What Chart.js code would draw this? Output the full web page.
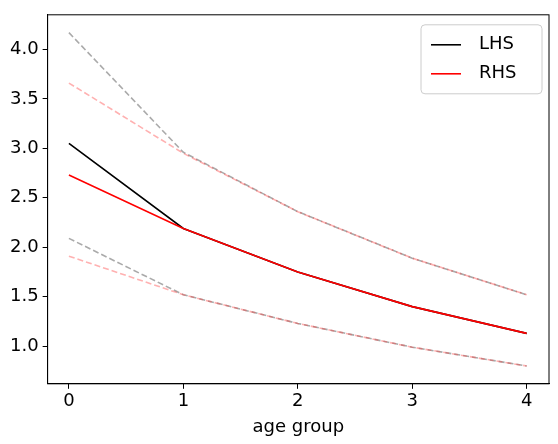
<!DOCTYPE html>
<html>
<head>
<meta charset="utf-8">
<script src="https://cdn.jsdelivr.net/npm/chart.js@4"></script>
<style>body{margin:0;background:#fff}#wrap{width:558px;height:444px}</style>
</head>
<body>
<div id="wrap"><canvas id="myChart"></canvas></div>
<script>
// données
const ages = [0, 1, 2, 3, 4];
const lhs = [3.05, 2.19, 1.75, 1.40, 1.13];
const rhs = [2.73, 2.19, 1.75, 1.40, 1.13];
const lhsUpper = [4.17, 2.96, 2.36, 1.89, 1.52];
const lhsLower = [2.09, 1.52, 1.23, 0.99, 0.80];
const rhsUpper = [3.66, 2.95, 2.36, 1.89, 1.52];
const rhsLower = [1.91, 1.52, 1.23, 0.99, 0.80];
const yTicks = [1.0, 1.5, 2.0, 2.5, 3.0, 3.5, 4.0];

function pts(y) {
    return ages.map((x, i) => ({x: x, y: y[i]}));
}

function serie(label, y, color, dashed) {
    return {
        label: label, data: pts(y), borderColor: color, borderWidth: 1.6,
        borderDash: dashed ? [6, 3] : [], pointRadius: 0, fill: false, tension: 0
    };
}

// cadre + légende dessinés dans la zone du graphique
const legendBox = {
    id: 'legendBox',
    afterDraw(chart) {
        const c = chart.ctx, a = chart.chartArea;
        c.save();
        c.strokeStyle = 'black'; c.lineWidth = 1;
        c.strokeRect(a.left, a.top, a.right - a.left, a.bottom - a.top);
        const x = a.right - 128, y = a.top + 10, w = 121, h = 69;
        c.fillStyle = 'rgba(255,255,255,0.85)';
        c.strokeStyle = '#ccc';
        c.beginPath();
        c.roundRect(x, y, w, h, 4);
        c.fill(); c.stroke();
        c.font = '18px "DejaVu Sans"';
        c.textBaseline = 'middle';
        [['LHS', 'black'], ['RHS', 'red']].forEach((e, i) => {
            const yy = y + 20 + i * 29;
            c.strokeStyle = e[1]; c.lineWidth = 1.6;
            c.beginPath(); c.moveTo(x + 10, yy); c.lineTo(x + 40, yy); c.stroke();
            c.fillStyle = 'black';
            c.fillText(e[0], x + 58, yy);
        });
        c.restore();
    }
};

const tickFont = {size: 18, family: 'DejaVu Sans'};
const axisGrid = {display: true, drawOnChartArea: false, drawTicks: true, tickLength: 5, color: 'black'};

new Chart(document.getElementById('myChart'), {
    type: 'line',
    data: {
        datasets: [
            serie('RHS', rhs, 'red', false),
            serie('LHS', lhs, 'black', false),
            serie('RHS upper', rhsUpper, 'rgba(255,60,60,0.4)', true),
            serie('RHS lower', rhsLower, 'rgba(255,60,60,0.4)', true),
            serie('LHS upper', lhsUpper, 'rgba(100,100,100,0.55)', true),
            serie('LHS lower', lhsLower, 'rgba(100,100,100,0.55)', true)
        ]
    },
    options: {
        responsive: true, maintainAspectRatio: false, animation: false,
        layout: {padding: {top: 8, right: 9, left: 6, bottom: 4}},
        plugins: {legend: {display: false}, tooltip: {enabled: false}},
        scales: {
            x: {
                type: 'linear', min: -0.186, max: 4.195,
                grid: axisGrid,
                border: {color: 'black'},
                afterBuildTicks: ax => { ax.ticks = ages.map(v => ({value: v})); },
                ticks: {color: 'black', font: tickFont, padding: 2},
                title: {display: true, text: 'age group', color: 'black', font: tickFont, padding: 2}
            },
            y: {
                min: 0.62, max: 4.35,
                grid: axisGrid,
                border: {color: 'black'},
                afterBuildTicks: ax => { ax.ticks = yTicks.map(v => ({value: v})); },
                ticks: {color: 'black', font: tickFont, padding: 4, callback: v => v.toFixed(1)}
            }
        }
    },
    plugins: [legendBox]
});
</script>
</body>
</html>
